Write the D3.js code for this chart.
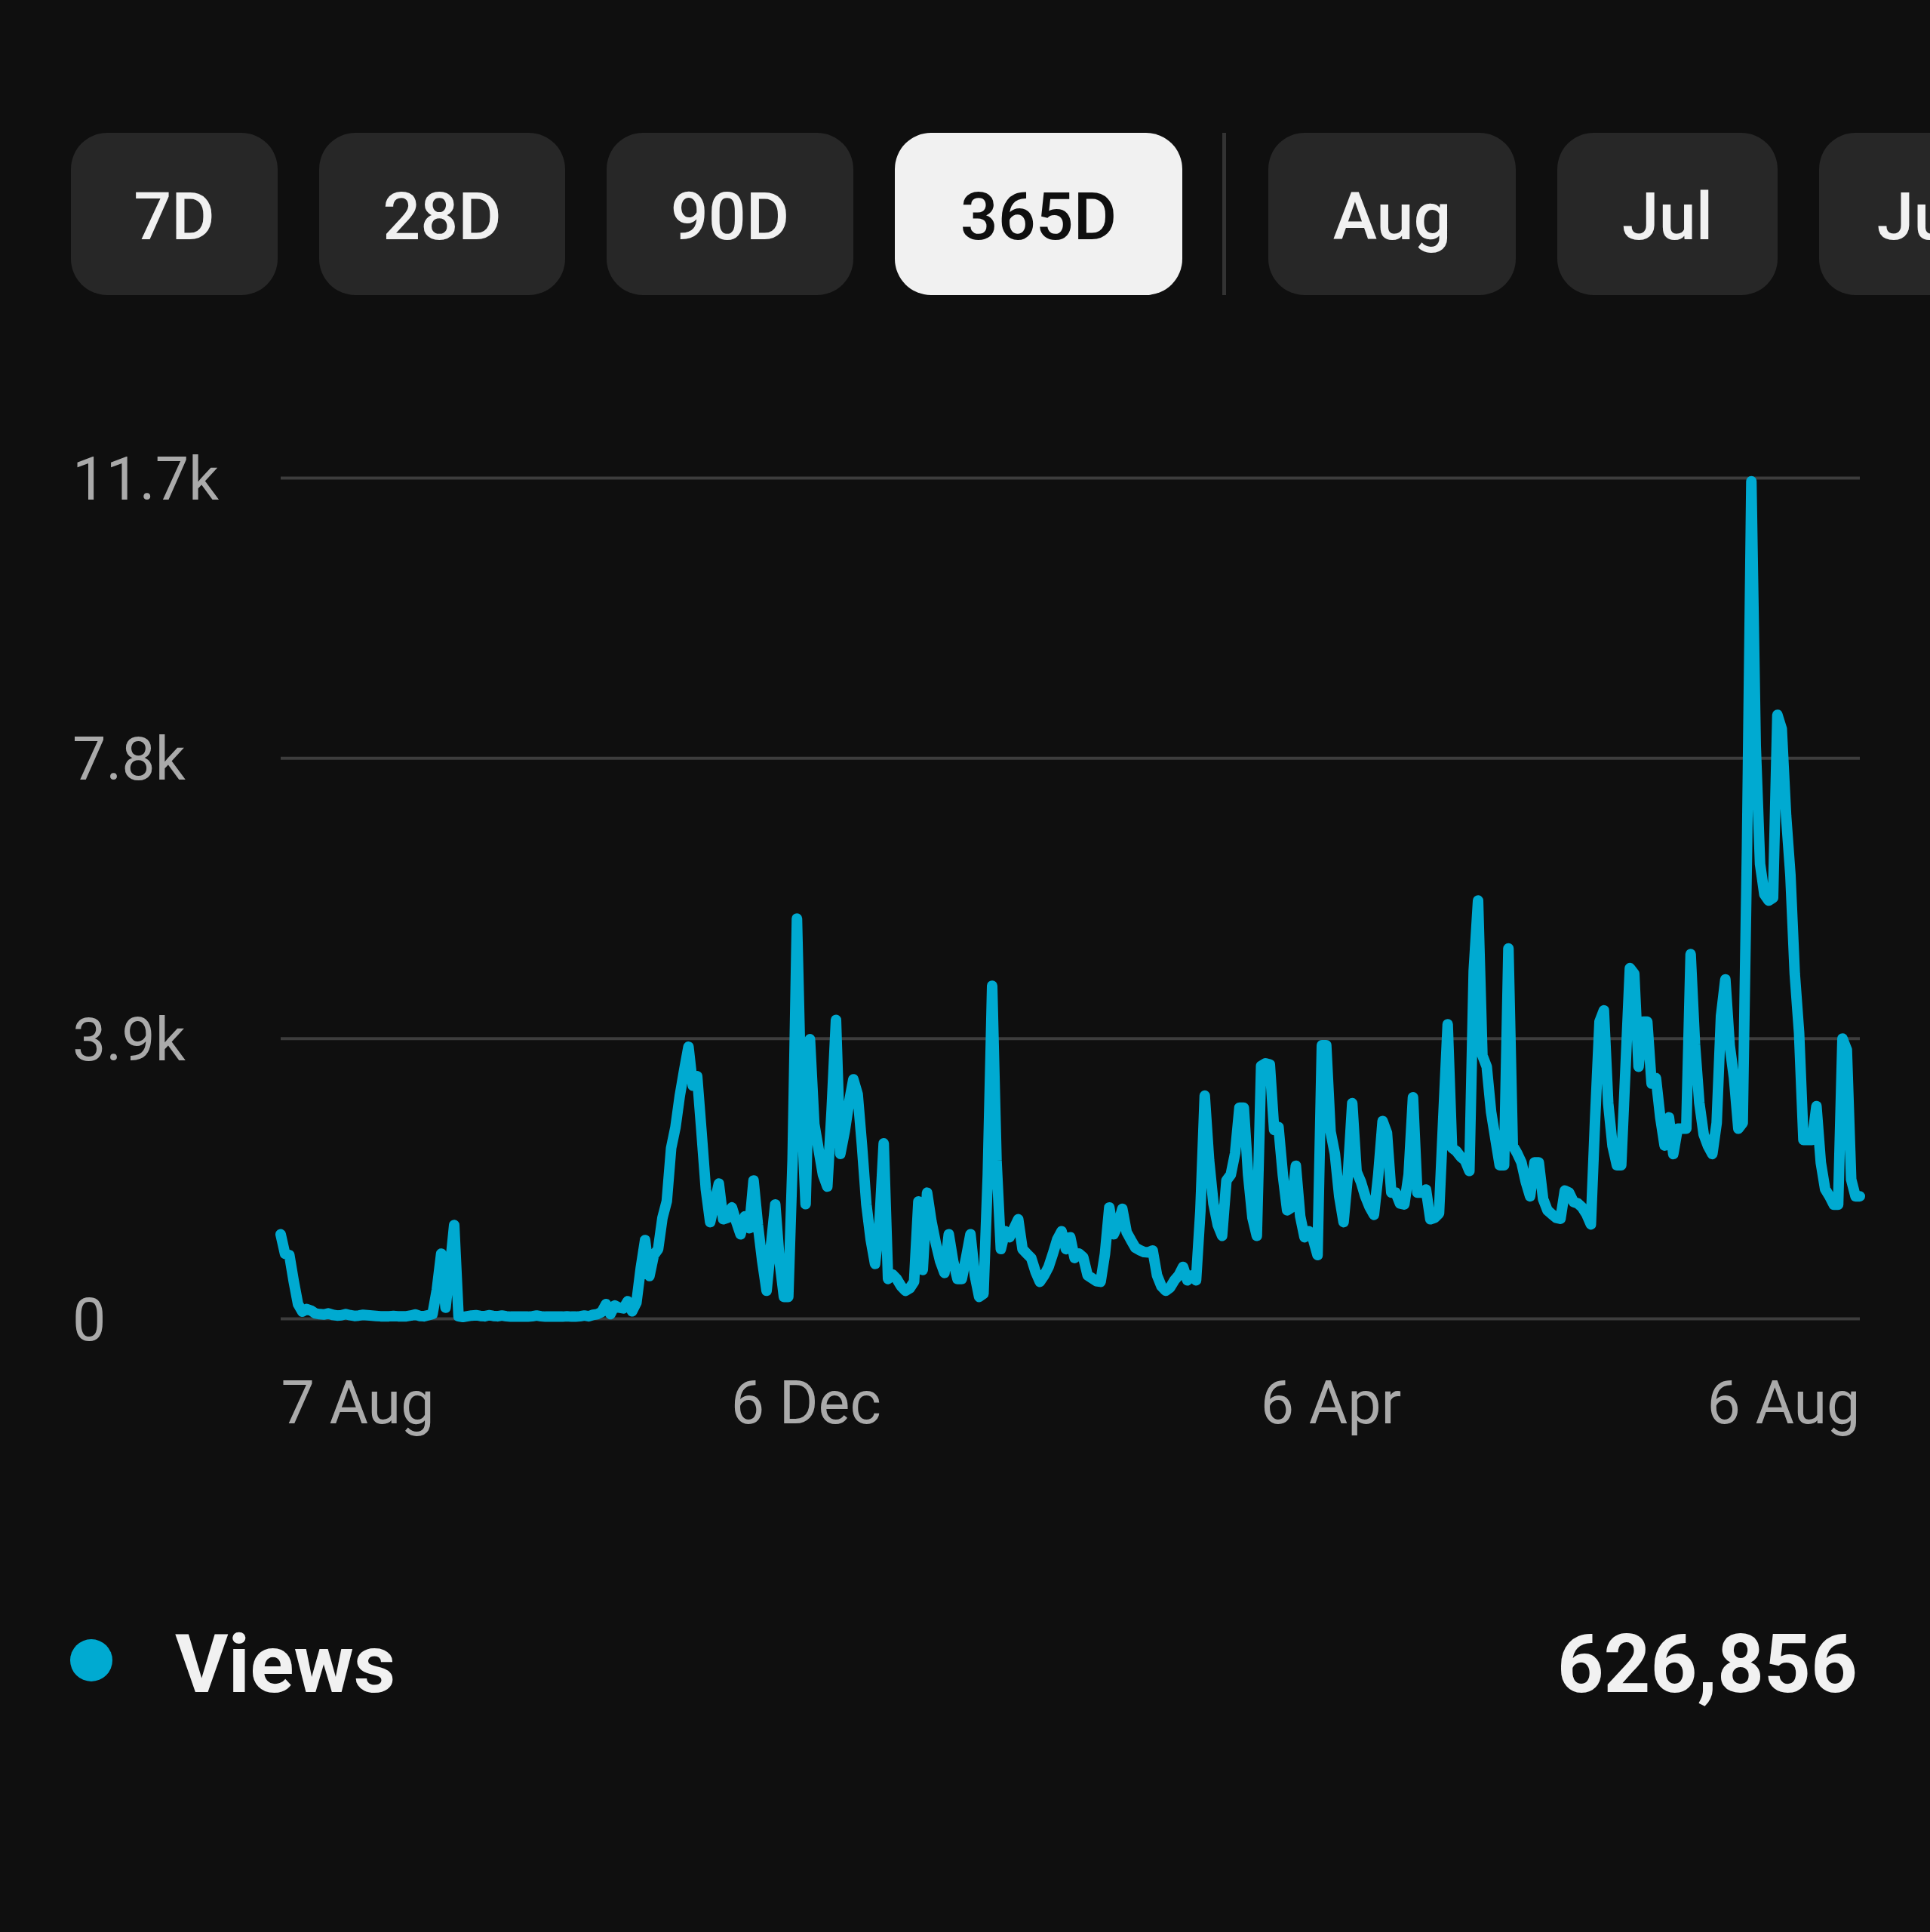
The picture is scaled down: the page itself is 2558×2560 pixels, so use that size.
<!DOCTYPE html>
<html>
<head>
<meta charset="utf-8">
<script src="https://cdn.jsdelivr.net/npm/d3@7"></script>
<style>
  html, body { margin: 0; padding: 0; background: #0f0f0f; overflow: hidden; }
  svg { display: block; font-family: Roboto, "Noto Sans", sans-serif; }
</style>
</head>
<body>
<script>
// period chips at the top
var periods = ["7D", "28D", "90D", "365D", "Aug", "Jul", "Jun"];
var selectedPeriod = "365D";

// y axis
var yTicks = [0, 3900, 7800, 11700];
var yLabels = ["0", "3.9k", "7.8k", "11.7k"];

// x axis (day index from 7 Aug)
var xTicks = [0, 121, 242, 364];
var xLabels = ["7 Aug", "6 Dec", "6 Apr", "6 Aug"];

// daily views, 7 Aug .. 6 Aug
var views = [
  1170, 900, 880, 520, 200, 95, 130, 110, 70, 60,
  55, 70, 50, 40, 45, 60, 45, 35, 40, 50,
  45, 40, 35, 30, 30, 30, 35, 30, 30, 30,
  40, 55, 35, 30, 45, 60, 400, 900, 150, 700,
  1300, 30, 20, 30, 40, 45, 35, 30, 45, 35,
  30, 40, 30, 25, 25, 25, 25, 25, 30, 40,
  30, 25, 25, 25, 25, 25, 30, 25, 25, 30,
  40, 30, 50, 60, 90, 200, 60, 180, 150, 140,
  240, 100, 220, 700, 1090, 590, 880, 965, 1400, 1630,
  2370, 2660, 3100, 3450, 3780, 3240, 3370, 2600, 1800, 1340,
  1600, 1877, 1380, 1400, 1545, 1350, 1170, 1420, 1255, 1920,
  1300, 800, 385, 1000, 1587, 800, 300, 300, 2200, 5565,
  3000, 1590, 3886, 2705, 2350, 2000, 1835, 2900, 4155, 2290,
  2600, 3000, 3327, 3120, 2400, 1590, 1100, 760, 1300, 2436,
  550, 613, 550, 450, 385, 420, 510, 1628, 675, 1750,
  1350, 1050, 800, 634, 1172, 800, 550, 550, 850, 1172,
  600, 300, 344, 2000, 4630, 2200, 965, 1214, 1130, 1250,
  1380, 965, 900, 841, 650, 510, 600, 717, 900, 1100,
  1214, 965, 1130, 841, 903, 850, 600, 560, 520, 510,
  900, 1545, 1172, 1300, 1525, 1200, 1090, 986, 950, 924,
  920, 945, 600, 450, 385, 430, 530, 600, 717, 530,
  600, 530, 1500, 3100, 2200, 1600, 1300, 1150, 1920, 2000,
  2300, 2933, 2933, 2000, 1400, 1150, 3513, 3550, 3534, 2622,
  2664, 2000, 1504, 1545, 2125, 1421, 1130, 1214, 1100, 882,
  3803, 3803, 2600, 2290, 1700, 1340, 2000, 2995, 2042, 1900,
  1700, 1550, 1442, 2000, 2747, 2581, 1752, 1752, 1600, 1587,
  2000, 3078, 1752, 1750, 1794, 1380, 1400, 1462, 2800, 4093,
  2374, 2328, 2250, 2200, 2053, 4835, 5815, 3660, 3503, 2876,
  2500, 2132, 2132, 5149, 2406, 2300, 2171, 1900, 1700, 2171,
  2171, 1661, 1505, 1450, 1400, 1387, 1779, 1750, 1622, 1600,
  1544, 1450, 1309, 2800, 4130, 4287, 2994, 2400, 2132, 2132,
  3500, 4875, 4796, 3503, 4130, 4130, 3268, 3346, 2800, 2406,
  2798, 2288, 2641, 2641, 2641, 5070, 3816, 3000, 2563, 2400,
  2288, 2720, 4208, 4718, 3800, 3346, 2641, 2720, 6560, 11650,
  7970, 6325, 5900, 5815, 5854, 8400, 8205, 7000, 6168, 4800,
  3973, 2484, 2484, 2484, 2954, 2171, 1800, 1700, 1583, 1583,
  3895, 3738, 1936, 1700, 1700
];

var seriesName = "Views";
var totalViews = "626,856";

var W = 2558, H = 2560;
var lineColor = "#00aad1";

var svg = d3.select("body").append("svg")
  .attr("width", W)
  .attr("height", H);

svg.append("rect")
  .attr("width", W)
  .attr("height", H)
  .attr("fill", "#0f0f0f");

// ---- period chips ----
var chipY = 176, chipH = 215, chipGap = 55;
var chipW = [274, 326, 327, 381, 328, 292, 300];
var chips = svg.append("g").attr("class", "chips");
var cx = 94;
periods.forEach(function(p, i) {
  var sel = p === selectedPeriod;
  var w = chipW[i];
  var g = chips.append("g");
  g.append("rect")
    .attr("x", cx)
    .attr("y", chipY)
    .attr("width", w)
    .attr("height", chipH)
    .attr("rx", 48)
    .attr("fill", sel ? "#f1f1f1" : "#272727");
  g.append("text")
    .attr("x", cx + w / 2)
    .attr("y", chipY + chipH / 2 + 33)
    .attr("text-anchor", "middle")
    .attr("font-size", 88)
    .attr("font-weight", 500)
    .attr("fill", sel ? "#0f0f0f" : "#f1f1f1")
    .text(p);
  cx += w + chipGap;
  // divider after the rolling periods
  if (sel) {
    chips.append("rect")
      .attr("x", cx - 2)
      .attr("y", chipY)
      .attr("width", 5)
      .attr("height", chipH)
      .attr("fill", "#333333");
    cx += 4 + chipGap;
  }
});

// ---- chart ----
var x = d3.scaleLinear()
  .domain([0, views.length - 1])
  .range([372, 2465]);

var y = d3.scaleLinear()
  .domain([0, 11700])
  .range([1747, 633]);

// y axis with grid lines
var yAxis = svg.append("g")
  .attr("transform", "translate(372,0)")
  .call(d3.axisLeft(y)
    .tickValues(yTicks)
    .tickSize(-(2465 - 372))
    .tickFormat(function(d, i) { return yLabels[i]; }));

yAxis.select(".domain").remove();
yAxis.selectAll(".tick line")
  .attr("stroke", "#3d3d3d")
  .attr("stroke-width", 4);
yAxis.selectAll(".tick text")
  .attr("x", -276)
  .attr("dy", "0.36em")
  .attr("text-anchor", "start")
  .attr("font-family", "Roboto, sans-serif")
  .attr("font-size", 79)
  .attr("fill", "#aaaaaa");

// x axis labels
var xAxis = svg.append("g")
  .attr("transform", "translate(0,1747)")
  .call(d3.axisBottom(x)
    .tickValues(xTicks)
    .tickSize(0)
    .tickFormat(function(d, i) { return xLabels[i]; }));

xAxis.select(".domain").remove();
xAxis.selectAll(".tick text")
  .attr("y", 139)
  .attr("dy", 0)
  .attr("font-family", "Roboto, sans-serif")
  .attr("font-size", 79)
  .attr("fill", "#aaaaaa")
  .attr("text-anchor", function(d, i) {
    return i === 0 ? "start" : (i === xTicks.length - 1 ? "end" : "middle");
  });

// the views line
var line = d3.line()
  .x(function(d, i) { return x(i); })
  .y(function(d) { return y(d); });

svg.append("path")
  .datum(views)
  .attr("fill", "none")
  .attr("stroke", lineColor)
  .attr("stroke-width", 14)
  .attr("stroke-linejoin", "round")
  .attr("stroke-linecap", "round")
  .attr("d", line);

// ---- legend / total ----
svg.append("circle")
  .attr("cx", 121)
  .attr("cy", 2200)
  .attr("r", 28)
  .attr("fill", lineColor);

svg.append("text")
  .attr("x", 232)
  .attr("y", 2242)
  .attr("font-size", 108)
  .attr("font-weight", 700)
  .attr("fill", "#f1f1f1")
  .text(seriesName);

svg.append("text")
  .attr("x", 2462)
  .attr("y", 2242)
  .attr("text-anchor", "end")
  .attr("font-size", 108)
  .attr("font-weight", 700)
  .attr("fill", "#f1f1f1")
  .text(totalViews);
</script>
</body>
</html>
